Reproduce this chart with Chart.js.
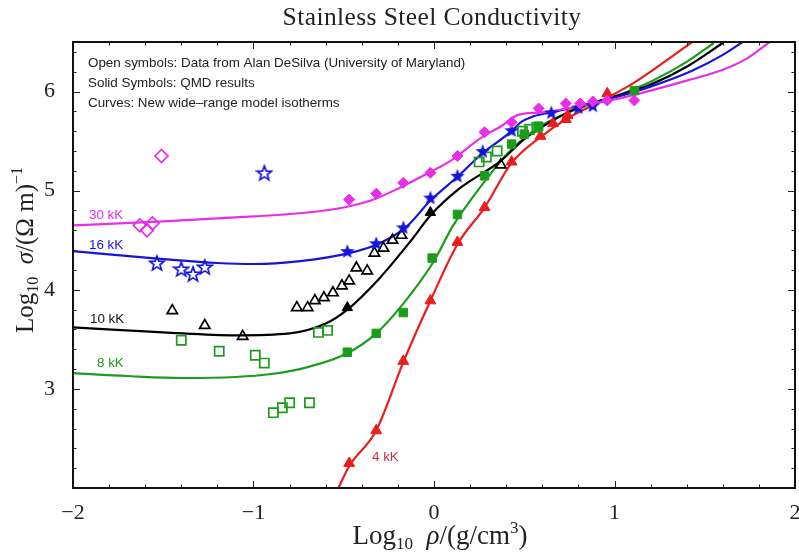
<!DOCTYPE html>
<html>
<head>
<meta charset="utf-8">
<title>Stainless Steel Conductivity</title>
<script src="https://cdn.jsdelivr.net/npm/chart.js@4.4.1/dist/chart.umd.min.js"></script>
<style>
  html, body { margin: 0; padding: 0; background: #fff; }
  #chart { display: block; }
</style>
</head>
<body>
<canvas id="chart" width="799" height="557"></canvas>
<script>
// axis ranges and ticks
const xRange = [-2, 2];
const yRange = [2, 6.5];
const xTickValues = [-2, -1, 0, 1, 2];
const yTickValues = [3, 4, 5, 6];

// model isotherm curves (log10 rho, log10 sigma)
const curve30X = [-2, -1.5, -1, -0.7, -0.5, -0.35, -0.2, -0.05, 0.1, 0.25, 0.38, 0.46, 0.6, 0.8, 1.0, 1.2, 1.4, 1.6, 1.73, 1.86];
const curve30Y = [4.65, 4.69, 4.74, 4.78, 4.83, 4.90, 5.02, 5.16, 5.31, 5.52, 5.66, 5.76, 5.79, 5.85, 5.92, 6.01, 6.11, 6.22, 6.33, 6.5];
const curve16X = [-2, -1.5, -1.2, -1, -0.74, -0.47, -0.3, -0.15, -0.02, 0.13, 0.27, 0.43, 0.48, 0.55, 0.65, 0.8, 1.0, 1.2, 1.43, 1.6, 1.71];
const curve16Y = [4.39, 4.31, 4.27, 4.26, 4.29, 4.37, 4.47, 4.64, 4.90, 5.14, 5.38, 5.60, 5.69, 5.75, 5.79, 5.85, 5.94, 6.05, 6.21, 6.37, 6.5];
const curve10X = [-2, -1.5, -1.1, -0.8, -0.6, -0.48, -0.3, -0.13, -0.02, 0.14, 0.37, 0.5, 0.65, 0.8, 1.0, 1.2, 1.4, 1.6];
const curve10Y = [3.62, 3.57, 3.54, 3.56, 3.66, 3.80, 4.12, 4.49, 4.75, 5.02, 5.30, 5.52, 5.70, 5.84, 5.95, 6.07, 6.25, 6.49];
const curve8X = [-2, -1.7, -1.39, -1.1, -0.9, -0.7, -0.48, -0.32, -0.17, 0, 0.1, 0.25, 0.42, 0.55, 0.66, 0.8, 1.0, 1.2, 1.4, 1.55];
const curve8Y = [3.16, 3.13, 3.11, 3.12, 3.15, 3.22, 3.36, 3.56, 3.86, 4.29, 4.63, 5.02, 5.40, 5.60, 5.72, 5.83, 5.95, 6.10, 6.30, 6.49];
const curve4X = [-0.53, -0.47, -0.32, -0.17, -0.02, 0.13, 0.28, 0.43, 0.59, 0.74, 0.9, 1.1, 1.3, 1.43];
const curve4Y = [2.0, 2.22, 2.58, 3.27, 3.89, 4.46, 4.83, 5.28, 5.54, 5.73, 5.88, 6.08, 6.33, 6.5];

// open symbols: experiment (DeSilva)
const exp30X = [-1.51, -1.63, -1.59, -1.56];
const exp30Y = [5.35, 4.65, 4.60, 4.67];
const exp16X = [-0.94, -1.535, -1.40, -1.335, -1.27];
const exp16Y = [5.18, 4.27, 4.21, 4.16, 4.23];
const exp10X = [-1.45, -1.27, -1.06, -0.76, -0.70, -0.66, -0.61, -0.56, -0.51, -0.47, -0.43, -0.37, -0.33, -0.28, -0.23, -0.18, 0.37];
const exp10Y = [3.79, 3.64, 3.53, 3.82, 3.82, 3.89, 3.92, 3.97, 4.04, 4.09, 4.22, 4.19, 4.37, 4.42, 4.50, 4.55, 5.26];
const exp8X = [-1.40, -1.19, -0.99, -0.94, -0.89, -0.84, -0.80, -0.69, -0.64, -0.59, 0.25, 0.29, 0.35, 0.49, 0.53, 0.57];
const exp8Y = [3.49, 3.38, 3.34, 3.26, 2.76, 2.81, 2.86, 2.86, 3.57, 3.59, 5.29, 5.34, 5.40, 5.60, 5.62, 5.64];

// solid symbols: QMD results
const qmd30X = [-0.47, -0.32, -0.17, -0.02, 0.13, 0.28, 0.43, 0.58, 0.73, 0.81, 0.88, 0.96, 1.11];
const qmd30Y = [4.91, 4.97, 5.08, 5.18, 5.35, 5.59, 5.69, 5.83, 5.88, 5.88, 5.90, 5.91, 5.91];
const qmd16X = [-0.48, -0.32, -0.17, -0.02, 0.13, 0.27, 0.43, 0.65, 0.80, 0.88];
const qmd16Y = [4.39, 4.47, 4.63, 4.93, 5.15, 5.40, 5.61, 5.79, 5.84, 5.86];
const qmd10X = [-0.48, -0.02];
const qmd10Y = [3.82, 4.78];
const qmd8X = [-0.48, -0.32, -0.17, -0.01, 0.13, 0.28, 0.43, 0.50, 0.58, 1.11];
const qmd8Y = [3.37, 3.56, 3.77, 4.32, 4.76, 5.15, 5.47, 5.57, 5.65, 6.01];
const qmd4X = [-0.47, -0.32, -0.17, -0.02, 0.13, 0.28, 0.43, 0.59, 0.66, 0.73, 0.74, 0.96];
const qmd4Y = [2.25, 2.58, 3.28, 3.89, 4.48, 4.83, 5.29, 5.55, 5.68, 5.72, 5.76, 5.98];

const MAGENTA = "#e82ee8";
const BLUE = "#1414dc";
const BLACK = "#000000";
const GREEN = "#1c9c1c";
const RED = "#ea1c1c";

const SERIF = "'Liberation Serif', 'Times New Roman', serif";
const SANS = "'Liberation Sans', Arial, sans-serif";

function pts(xs, ys) {
    return xs.map((x, i) => ({ x: x, y: ys[i] }));
}

// five-pointed star drawn onto a small canvas, used as a point style
function makeStar(color, filled) {
    const c = document.createElement("canvas");
    c.width = 18; c.height = 18;
    const g = c.getContext("2d");
    const R = 7.6, r = 3.2;
    g.beginPath();
    for (let i = 0; i < 10; i++) {
        const a = -Math.PI / 2 + i * Math.PI / 5;
        const rad = i % 2 === 0 ? R : r;
        const px = 9 + rad * Math.cos(a), py = 9.7 + rad * Math.sin(a);
        if (i === 0) g.moveTo(px, py); else g.lineTo(px, py);
    }
    g.closePath();
    if (filled) {
        g.fillStyle = color;
        g.fill();
    } else {
        g.strokeStyle = color;
        g.lineWidth = 1.7;
        g.stroke();
    }
    return c;
}

function curve(xs, ys, color) {
    return {
        data: pts(xs, ys),
        showLine: true,
        borderColor: color,
        borderWidth: 2.2,
        pointRadius: 0,
        cubicInterpolationMode: "monotone",
        order: 2
    };
}

function markers(xs, ys, color, style, radius, filled) {
    return {
        data: pts(xs, ys),
        showLine: false,
        pointStyle: style,
        pointRadius: radius,
        borderColor: color,
        backgroundColor: filled ? color : "rgba(255,255,255,0)",
        pointBorderWidth: filled ? 1 : 1.7,
        order: 1
    };
}

// frame, inward ticks, titles and text annotations
const decorPlugin = {
    id: "decor",
    afterDraw(chart) {
        const ctx = chart.ctx;
        const a = chart.chartArea;
        const xs = chart.scales.x, ys = chart.scales.y;
        ctx.save();

        // ticks pointing inward
        ctx.strokeStyle = "#222";
        ctx.lineWidth = 1;
        for (let v = -2; v <= 2.001; v += 0.2) {
            const major = Math.abs(v - Math.round(v)) < 1e-6;
            const len = major ? 7 : 3.5;
            const px = Math.round(xs.getPixelForValue(v)) + 0.5;
            ctx.beginPath();
            ctx.moveTo(px, a.bottom); ctx.lineTo(px, a.bottom - len);
            ctx.moveTo(px, a.top); ctx.lineTo(px, a.top + len);
            ctx.stroke();
        }
        for (let v = 2; v <= 6.501; v += 0.2) {
            const major = Math.abs(v - Math.round(v)) < 1e-6;
            const len = major ? 7 : 3.5;
            const py = Math.round(ys.getPixelForValue(v)) + 0.5;
            ctx.beginPath();
            ctx.moveTo(a.left, py); ctx.lineTo(a.left + len, py);
            ctx.moveTo(a.right, py); ctx.lineTo(a.right - len, py);
            ctx.stroke();
        }

        // frame
        ctx.strokeStyle = "#111";
        ctx.lineWidth = 2;
        ctx.strokeRect(a.left, a.top, a.right - a.left, a.bottom - a.top);

        // chart title
        ctx.fillStyle = "#222";
        ctx.font = "25.5px " + SERIF;
        ctx.letterSpacing = "0.4px";
        ctx.textAlign = "center";
        ctx.textBaseline = "middle";
        ctx.fillText("Stainless Steel Conductivity", 432, 18);
        ctx.letterSpacing = "0px";

        // note lines
        ctx.font = "13.4px " + SANS;
        ctx.textAlign = "left";
        ctx.fillStyle = "#222";
        ctx.fillText("Open symbols: Data from Alan DeSilva (University of Maryland)", 88, 63);
        ctx.fillText("Solid Symbols: QMD results", 88, 83);
        ctx.fillText("Curves: New wide\u2013range model isotherms", 88, 103);

        // isotherm labels
        ctx.font = "13.4px " + SANS;
        const labels = [
            ["30 kK", MAGENTA, 89, 215],
            ["16 kK", BLUE, 89, 245],
            ["10 kK", "#111", 90, 319],
            ["8 kK", GREEN, 97, 363],
            ["4 kK", "#c03048", 372, 457]
        ];
        labels.forEach(l => {
            ctx.fillStyle = l[1];
            ctx.fillText(l[0], l[2], l[3]);
        });

        // axis titles with subscripts / superscripts
        const drawParts = (parts, cx, cy) => {
            let total = 0;
            parts.forEach(p => { ctx.font = p.font; total += ctx.measureText(p.t).width; });
            let x = cx - total / 2;
            ctx.textAlign = "left";
            ctx.textBaseline = "alphabetic";
            parts.forEach(p => {
                ctx.font = p.font;
                ctx.fillText(p.t, x, cy + (p.dy || 0));
                x += ctx.measureText(p.t).width;
            });
        };
        ctx.fillStyle = "#222";
        const bigX = "27px " + SERIF, smallX = "17px " + SERIF, italX = "italic 27px " + SERIF;
        drawParts([
            { t: "Log", font: bigX },
            { t: "10", font: smallX, dy: 5 },
            { t: "  ", font: bigX },
            { t: "\u03c1", font: italX },
            { t: "/(g/cm", font: bigX },
            { t: "3", font: smallX, dy: -11 },
            { t: ")", font: bigX }
        ], 440, 544);

        const bigY = "25px " + SERIF, smallY = "16px " + SERIF, italY = "italic 25px " + SERIF;
        ctx.save();
        ctx.translate(33, 250);
        ctx.rotate(-Math.PI / 2);
        drawParts([
            { t: "Log", font: bigY },
            { t: "10", font: smallY, dy: 5 },
            { t: "  ", font: bigY },
            { t: "\u03c3", font: italY },
            { t: "/(\u03a9 m)", font: bigY },
            { t: "\u22121", font: smallY, dy: -11 }
        ], 0, 0);
        ctx.restore();

        ctx.restore();
    }
};

const ctx = document.getElementById("chart").getContext("2d");
new Chart(ctx, {
    type: "scatter",
    data: {
        datasets: [
            curve(curve30X, curve30Y, MAGENTA),
            curve(curve16X, curve16Y, BLUE),
            curve(curve10X, curve10Y, BLACK),
            curve(curve8X, curve8Y, GREEN),
            curve(curve4X, curve4Y, RED),
            markers(exp30X, exp30Y, MAGENTA, "rectRot", 6.5, false),
            markers(qmd30X, qmd30Y, MAGENTA, "rectRot", 5.5, true),
            markers(exp16X, exp16Y, BLUE, makeStar(BLUE, false), 7, false),
            markers(qmd16X, qmd16Y, BLUE, makeStar(BLUE, true), 7, true),
            markers(exp10X, exp10Y, BLACK, "triangle", 6, false),
            markers(qmd10X, qmd10Y, BLACK, "triangle", 6, true),
            markers(exp8X, exp8Y, GREEN, "rect", 6.5, false),
            markers(qmd8X, qmd8Y, GREEN, "rect", 6, true),
            markers(qmd4X, qmd4Y, RED, "triangle", 6.3, true)
        ]
    },
    options: {
        responsive: false,
        animation: false,
        layout: { autoPadding: false, padding: { top: 42, right: 4, left: 0, bottom: 0 } },
        plugins: {
            legend: { display: false },
            tooltip: { enabled: false },
            title: { display: false }
        },
        scales: {
            x: {
                type: "linear",
                min: xRange[0],
                max: xRange[1],
                grid: { display: false },
                border: { display: false },
                afterBuildTicks: s => { s.ticks = xTickValues.map(v => ({ value: v })); },
                afterFit: s => { s.height = 69; s.paddingLeft = 0; s.paddingRight = 0; },
                ticks: {
                    padding: 4,
                    color: "#222",
                    font: { family: SERIF, size: 22 },
                    callback: v => (v < 0 ? "\u2212" + Math.abs(v) : String(v))
                }
            },
            y: {
                type: "linear",
                min: yRange[0],
                max: yRange[1],
                grid: { display: false },
                border: { display: false },
                afterBuildTicks: s => { s.ticks = yTickValues.map(v => ({ value: v })); },
                afterFit: s => { s.width = 73; s.paddingTop = 0; s.paddingBottom = 0; },
                ticks: {
                    padding: 10,
                    color: "#222",
                    font: { family: SERIF, size: 22 },
                    callback: v => String(v)
                }
            }
        }
    },
    plugins: [decorPlugin]
});
</script>
</body>
</html>
